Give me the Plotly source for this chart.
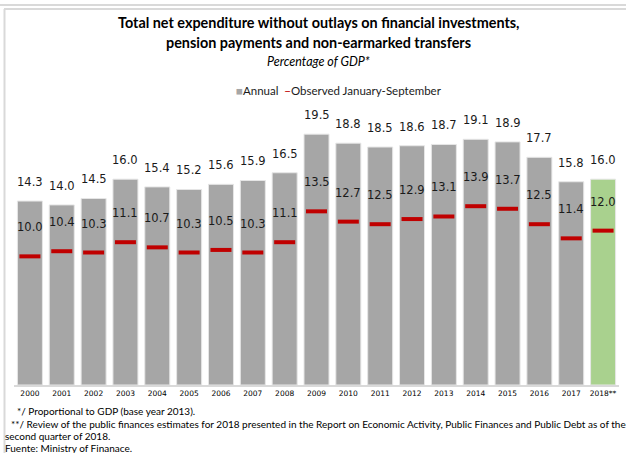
import plotly.graph_objects as go

years = ["2000", "2001", "2002", "2003", "2004", "2005", "2006", "2007", "2008", "2009",
         "2010", "2011", "2012", "2013", "2014", "2015", "2016", "2017", "2018**"]
annual = [14.3, 14.0, 14.5, 16.0, 15.4, 15.2, 15.6, 15.9, 16.5, 19.5,
          18.8, 18.5, 18.6, 18.7, 19.1, 18.9, 17.7, 15.8, 16.0]
jan_sep = [10.0, 10.4, 10.3, 11.1, 10.7, 10.3, 10.5, 10.3, 11.1, 13.5,
           12.7, 12.5, 12.9, 13.1, 13.9, 13.7, 12.5, 11.4, 12.0]

GRAY = "#a6a6a6"
GREEN = "#a9d18e"
RED = "#c00000"
HUMANIST = "Lato, Roboto, sans-serif"
LABEL = "DejaVu Sans, Verdana, sans-serif"

W, H = 626, 453
L, R, T, B = 14, 7, 101.6, 68
pw, ph = W - L - R, H - T - B

def px(x):
    return (x - L) / pw

def py(y):
    return (H - B - y) / ph

pos = list(range(len(years)))
bar_colors = [GREEN if y.startswith("2018") else GRAY for y in years]

fig = go.Figure()
fig.add_trace(go.Bar(
    x=pos, y=annual, marker=dict(color=bar_colors, line=dict(color="#e6e6e6", width=1)),
    showlegend=False, hoverinfo="skip",
))
fig.add_trace(go.Scatter(
    x=pos, y=jan_sep, mode="markers",
    marker=dict(symbol="line-ew", size=15, line=dict(color=RED, width=4)),
    showlegend=False, hoverinfo="skip",
))

ann = []
for p, a, j in zip(pos, annual, jan_sep):
    ann.append(dict(x=p, y=a, text=f"{a:.1f}", showarrow=False, yanchor="middle",
                    yshift=19, font=dict(family=LABEL, size=11.5, color="#1a1a1a")))
    ann.append(dict(x=p, y=j, text=f"{j:.1f}", showarrow=False, yanchor="middle",
                    yshift=29, font=dict(family=LABEL, size=11.5, color="#1a1a1a")))

title_font = dict(family=HUMANIST, size=14.4, color="#000000")
ann += [
    dict(xref="paper", yref="paper", x=px(318), y=py(22), text="<b>Total net expenditure without outlays on financial investments,</b>",
         showarrow=False, xanchor="center", yanchor="middle", font=title_font),
    dict(xref="paper", yref="paper", x=px(318), y=py(42), text="<b>pension payments and non-earmarked transfers</b>",
         showarrow=False, xanchor="center", yanchor="middle", font=title_font),
    dict(xref="paper", yref="paper", x=px(318), y=py(61), text="<i>Percentage of GDP*</i>",
         showarrow=False, xanchor="center", yanchor="middle", font=dict(family=HUMANIST, size=12.5, color="#000000")),
    dict(xref="paper", yref="paper", x=px(339), y=py(90),
         text=f"<span style='color:{GRAY}'>■</span>Annual  <span style='color:{RED}'>−</span>Observed January-September",
         showarrow=False, xanchor="center", yanchor="middle", font=dict(family=HUMANIST, size=11.5, color="#1a1a1a")),
]

foot_font = dict(family=HUMANIST, size=10, color="#000000")
footnotes = [
    (15, 411, "*/ Proportional to GDP (base year 2013)."),
    (9, 424, "**/ Review of the public finances estimates for 2018 presented in the Report on Economic Activity, Public Finances and Public Debt as of the"),
    (3, 436, "second quarter of 2018."),
    (3, 448, "Fuente: Ministry of Finanace."),
]
for x0, y0, t in footnotes:
    ann.append(dict(xref="paper", yref="paper", x=px(x0), y=py(y0), text=t, showarrow=False,
                    xanchor="left", yanchor="middle", font=foot_font))

shapes = [
    dict(type="line", xref="paper", yref="paper", x0=px(0), x1=px(626), y0=py(4.5), y1=py(4.5),
         line=dict(color="#d9d9d9", width=2)),
    dict(type="line", xref="paper", yref="paper", x0=px(4), x1=px(626), y0=py(8.5), y1=py(8.5),
         line=dict(color="#d9d9d9", width=2)),
    dict(type="line", xref="paper", yref="paper", x0=px(4.5), x1=px(4.5), y0=py(8.5), y1=py(453),
         line=dict(color="#d9d9d9", width=2)),
]

fig.update_layout(
    width=W, height=H, margin=dict(l=L, r=R, t=T, b=B),
    paper_bgcolor="white", plot_bgcolor="white",
    bargap=0.215, annotations=ann, shapes=shapes,
    xaxis=dict(range=[-0.5, len(years) - 0.5], tickmode="array", tickvals=pos, ticktext=years,
               showline=True, linecolor="#d9d9d9", linewidth=2, ticks="",
               tickfont=dict(family=LABEL, size=7.5, color="#000000"), showgrid=False, zeroline=False),
    yaxis=dict(range=[0, 22], visible=False, showgrid=False, zeroline=False),
)

fig.write_html("out.html")
